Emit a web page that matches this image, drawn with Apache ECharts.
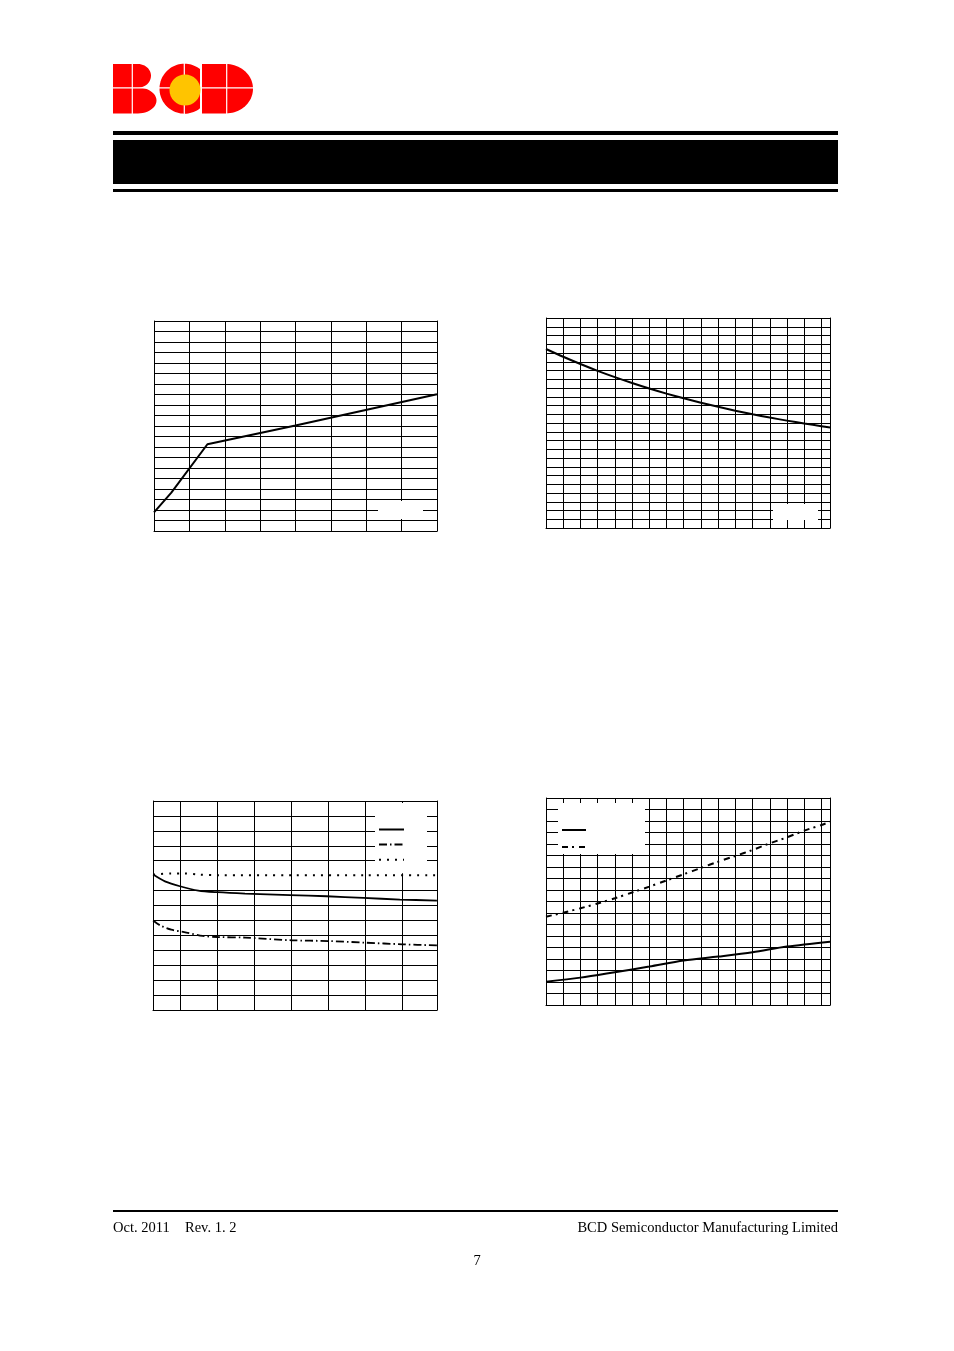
<!DOCTYPE html>
<html>
<head>
<meta charset="utf-8">
<script src="https://cdn.jsdelivr.net/npm/echarts@6/dist/echarts.min.js"></script>
<style>
html,body{margin:0;padding:0;background:#fff;}
#main{width:954px;height:1351px;}
</style>
</head>
<body>
<div id="main"></div>
<script>
// ---- Chart 1 (top-left) ----
const c1X = [0, 0.49, 1.51, 4, 8];
const c1Y = [1.78, 3.65, 8.26, 10.05, 13.02];

// ---- Chart 2 (top-right), x = temperature ----
const c2X = [-40, -30, -20, -10, 0, 10, 20, 30, 40, 50, 60, 70, 80, 90, 100, 110, 120, 125];
const c2Y = [20.46, 19.57, 18.74, 17.96, 17.24, 16.57, 15.94, 15.36, 14.82, 14.32, 13.85, 13.41, 13.00, 12.62, 12.27, 11.94, 11.64, 11.49];

// ---- Chart 3 (bottom-left) ----
const c3GridX = [6, 8, 10, 12, 14, 16, 18];
const c3SolidX = [4.52, 5.16, 5.97, 6.96, 7.99, 9.49, 11.92, 13.9, 15.88, 17.86, 19.86];
const c3SolidY = [9.07, 8.62, 8.29, 8.0, 7.89, 7.8, 7.7, 7.62, 7.51, 7.4, 7.33];
const c3DashX = [4.52, 4.9, 5.5, 6.2, 7.2, 8.0, 9.5, 12, 14, 16, 18, 19.86];
const c3DashY = [6.0, 5.67, 5.38, 5.22, 4.96, 4.89, 4.85, 4.67, 4.62, 4.51, 4.4, 4.33];
const c3DotX = [4.52, 5.5, 6.2, 7.0, 8.0, 12, 16, 19.86];
const c3DotY = [9.07, 9.15, 9.15, 9.07, 9.03, 9.02, 9.02, 9.02];

// ---- Chart 4 (bottom-right), x = temperature ----
const c4DashX = [-40, -30, -20, -10, 0, 10, 20, 30, 40, 50, 60, 70, 80, 90, 100, 110, 120, 125];
const c4DashY = [7.68, 8.03, 8.41, 8.83, 9.28, 9.78, 10.29, 10.83, 11.37, 11.92, 12.46, 12.96, 13.48, 14.06, 14.58, 15.16, 15.65, 15.94];
const c4SolidX = [-40, -20, 0, 20, 40, 60, 80, 100, 125];
const c4SolidY = [2.03, 2.38, 2.85, 3.34, 3.86, 4.21, 4.59, 5.08, 5.51];

const zip = (xs, ys) => xs.map((x, i) => [x, ys[i]]);

const black = '#000';
const hideAx = { axisLabel: { show: false }, axisTick: { show: false } };
function xAx(gi, min, max, interval, split) {
  const o = Object.assign({ type: 'value', gridIndex: gi, min: min, max: max,
    axisLine: { show: true, onZero: false, lineStyle: { color: black, width: 1 } },
    splitLine: { show: split, lineStyle: { color: black, width: 1 } } }, hideAx);
  if (interval) o.interval = interval;
  return o;
}
function yAx(gi, min, max, interval, colors) {
  return Object.assign({ type: 'value', gridIndex: gi, min: min, max: max, interval: interval,
    axisLine: { show: true, onZero: false, lineStyle: { color: black, width: 1 } },
    splitLine: { show: true, lineStyle: { color: colors || black, width: 1 } } }, hideAx);
}
function yRight(gi) {
  return Object.assign({ type: 'value', gridIndex: gi, position: 'right', min: 0, max: 1,
    axisLine: { show: true, onZero: false, lineStyle: { color: black, width: 1 } },
    splitLine: { show: false } }, hideAx);
}
// chart 3: the gridline under the dotted curve is not drawn
const c3Colors = [];
for (let i = 0; i <= 14; i++) c3Colors.push(i === 9 ? 'rgba(0,0,0,0)' : black);

const dashDot3 = [8, 3, 1.5, 3];
const dashDot4 = [6, 4, 2, 5];
const dotted = [2, 6];

const legendBase = { orient: 'vertical', backgroundColor: '#fff', selectedMode: false, z: 20,
  itemStyle: { opacity: 0 },
  formatter: () => '', textStyle: { fontSize: 6 }, borderWidth: 0 };

// logo outline helpers (decorative shapes, not data)
function arcPts(cx, cy, rx, ry, a0, a1, n) {
  const pts = [];
  for (let i = 0; i <= n; i++) {
    const a = (a0 + (a1 - a0) * i / n) * Math.PI / 180;
    pts.push([cx + rx * Math.cos(a), cy + ry * Math.sin(a)]);
  }
  return pts;
}
const logoB = [[113, 64]].concat(arcPts(138, 75.8, 13, 11.8, -90, 90, 24), arcPts(138, 100.5, 18.5, 12.9, -90, 90, 24), [[113, 113.4]]);
const cA0 = Math.atan2(108.3 - 88.7, 15.5) * 180 / Math.PI;
const logoC = arcPts(184.5, 88.7, 25, 25, cA0, 360 - cA0, 60);
const logoD = [[202, 64]].concat(arcPts(226, 88.7, 27, 24.7, -90, 90, 40), [[202, 113.4]]);

const footFont = '14.5px "Liberation Serif"';

const option = {
  animation: false,
  backgroundColor: '#fff',
  color: [black],
  grid: [
    { left: 154, top: 321, width: 283, height: 210 },
    { left: 546, top: 318, width: 284, height: 210 },
    { left: 153, top: 801, width: 284, height: 209 },
    { left: 546, top: 798, width: 284, height: 207 }
  ],
  xAxis: [
    xAx(0, 0, 8, 1, true),
    xAx(1, -40, 125, 10, true),
    xAx(2, 4.5135, 19.865, null, false),
    xAx(3, -40, 125, 10, true)
  ],
  yAxis: [
    yAx(0, 0, 20, 1),
    yAx(1, 0, 24, 1),
    yAx(2, 0, 14, 1, c3Colors),
    yAx(3, 0, 18, 1),
    yRight(0), yRight(1), yRight(2), yRight(3)
  ],
  legend: [
    Object.assign({}, legendBase, { left: 375, top: 803, itemWidth: 25, itemHeight: 9, itemGap: 7,
      padding: [22, 22, 10, 3], data: ['Curve A', 'Curve B', 'Curve C'] }),
    Object.assign({}, legendBase, { left: 558, top: 803, itemWidth: 24, itemHeight: 10, itemGap: 8,
      padding: [22, 58, 3, 3], data: ['Curve D', 'Curve E'] })
  ],
  series: [
    { name: 'Chart 1', type: 'line', xAxisIndex: 0, yAxisIndex: 0, data: zip(c1X, c1Y), symbol: 'none',
      lineStyle: { color: black, width: 2 } },
    { name: 'Chart 2', type: 'line', xAxisIndex: 1, yAxisIndex: 1, data: zip(c2X, c2Y), symbol: 'none', smooth: 0.3,
      lineStyle: { color: black, width: 2 } },
    { name: 'Curve A', type: 'line', xAxisIndex: 2, yAxisIndex: 2, data: zip(c3SolidX, c3SolidY), symbol: 'none', smooth: 0.3,
      lineStyle: { color: black, width: 1.8 }, itemStyle: { color: black },
      markLine: { silent: true, z: 1, symbol: ['none', 'none'], label: { show: false },
        lineStyle: { color: black, width: 1, type: 'solid' },
        data: c3GridX.map(v => ({ xAxis: v })) } },
    { name: 'Curve B', type: 'line', xAxisIndex: 2, yAxisIndex: 2, data: zip(c3DashX, c3DashY), symbol: 'none', smooth: 0.3,
      lineStyle: { color: black, width: 1.8, type: dashDot3 }, itemStyle: { color: black } },
    { name: 'Curve C', type: 'line', xAxisIndex: 2, yAxisIndex: 2, data: zip(c3DotX, c3DotY), symbol: 'none', smooth: 0.3,
      lineStyle: { color: black, width: 2, type: dotted }, itemStyle: { color: black } },
    { name: 'Curve D', type: 'line', xAxisIndex: 3, yAxisIndex: 3, data: zip(c4SolidX, c4SolidY), symbol: 'none', smooth: 0.3,
      lineStyle: { color: black, width: 2 }, itemStyle: { color: black } },
    { name: 'Curve E', type: 'line', xAxisIndex: 3, yAxisIndex: 3, data: zip(c4DashX, c4DashY), symbol: 'none', smooth: 0.3,
      lineStyle: { color: black, width: 2, type: dashDot4 }, itemStyle: { color: black } }
  ],
  graphic: [
    // header rules
    { type: 'rect', z: 50, shape: { x: 113, y: 131, width: 725, height: 4 }, style: { fill: black } },
    { type: 'rect', z: 50, shape: { x: 113, y: 140, width: 725, height: 44 }, style: { fill: black } },
    { type: 'rect', z: 50, shape: { x: 113, y: 189, width: 725, height: 3 }, style: { fill: black } },
    // logo
    { type: 'polygon', z: 50, shape: { points: logoB }, style: { fill: '#ff0000' } },
    { type: 'polygon', z: 50, shape: { points: logoC }, style: { fill: '#ff0000' } },
    { type: 'polygon', z: 50, shape: { points: logoD }, style: { fill: '#ff0000' } },
    { type: 'rect', z: 51, shape: { x: 112, y: 87.2, width: 142, height: 1.3 }, style: { fill: '#fff' } },
    { type: 'rect', z: 51, shape: { x: 131.7, y: 63, width: 1.2, height: 51 }, style: { fill: '#fff' } },
    { type: 'rect', z: 51, shape: { x: 183.7, y: 63, width: 1.2, height: 51 }, style: { fill: '#fff' } },
    { type: 'rect', z: 51, shape: { x: 226.1, y: 63, width: 1.2, height: 51 }, style: { fill: '#fff' } },
    { type: 'circle', z: 52, shape: { cx: 185, cy: 90, r: 15.5 }, style: { fill: '#ffc400' } },
    // blank label boxes in the upper charts
    { type: 'rect', z: 60, shape: { x: 378, y: 501, width: 45, height: 18 }, style: { fill: '#fff' } },
    { type: 'rect', z: 60, shape: { x: 773, y: 504, width: 45, height: 16 }, style: { fill: '#fff' } },
    // footer
    { type: 'rect', z: 50, shape: { x: 113, y: 1210, width: 725, height: 2 }, style: { fill: black } },
    { type: 'text', z: 50, x: 113, y: 1228, style: { text: 'Oct. 2011', font: footFont, fill: black, textVerticalAlign: 'middle' } },
    { type: 'text', z: 50, x: 185, y: 1228, style: { text: 'Rev. 1. 2', font: footFont, fill: black, textVerticalAlign: 'middle' } },
    { type: 'text', z: 50, x: 838, y: 1228, style: { text: 'BCD Semiconductor Manufacturing Limited', font: footFont, fill: black, textAlign: 'right', textVerticalAlign: 'middle' } },
    { type: 'text', z: 50, x: 477, y: 1261, style: { text: '7', font: footFont, fill: black, textAlign: 'center', textVerticalAlign: 'middle' } }
  ]
};

const chart = echarts.init(document.getElementById('main'), null, { renderer: 'canvas' });
chart.setOption(option);
</script>
</body>
</html>
